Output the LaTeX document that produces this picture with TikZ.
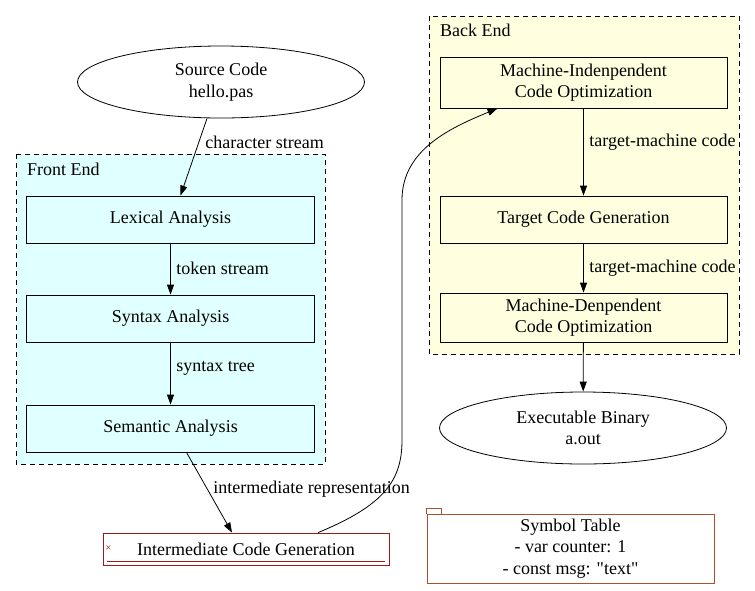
\documentclass[tikz,border=0pt]{standalone}
\usepackage{fontspec}
\setmainfont{Liberation Serif}[Ligatures=TeXOff]
\usetikzlibrary{arrows.meta,shapes.geometric}

\definecolor{frontfill}{HTML}{E0FFFF}
\definecolor{backfill}{HTML}{FFFFE0}
\definecolor{icgred}{RGB}{155,28,28}
\definecolor{symbrown}{RGB}{170,82,45}

\begin{document}
\begin{tikzpicture}[
    x=1pt, y=-1pt,
    every node/.style={font=\fontsize{18}{21.5}\selectfont},
    cluster/.style={draw, dashed, dash pattern=on 5pt off 4pt, line width=0.8pt},
    clabel/.style={anchor=west, inner sep=0pt},
    stage/.style={
        draw,
        line width=0.8pt,
        align=center,
        inner sep=0pt,
        minimum width=288pt,
        minimum height=47pt
    },
    term/.style={draw, ellipse, line width=0.8pt, fill=white, align=center,
        inner sep=0pt, minimum width=287pt, minimum height=72pt},
    elabel/.style={anchor=west, inner sep=0pt},
    arr/.style={-{Triangle[length=10pt,width=7pt]}, line width=0.8pt}
]
    \useasboundingbox (0,0) rectangle (755,590);

    % Clusters
    \draw[cluster, fill=frontfill] (16,154) rectangle (325,464);
    \node[clabel] (felabel) at (27,169) {Front End};
    \draw[cluster, fill=backfill] (429,16) rectangle (739,354);
    \node[clabel] (belabel) at (440,30) {Back End};

    % Source
    \node[term] (src) at (221,82) {Source Code\\ hello.pas};

    % Front end
    \node[stage, fill=frontfill] (lex) at (170.5,219.5) {Lexical Analysis};
    \node[stage, fill=frontfill] (syn) at (170.5,318.5) {Syntax Analysis};
    \node[stage, fill=frontfill] (sem) at (170.5,428.5) {Semantic Analysis};

    \draw[arr] ([xshift=-14pt]src.south) -- ([xshift=10pt]lex.north)
        node[elabel] (lcs) at (205,142) {character stream};
    \draw[arr] (lex) -- (syn)
        node[elabel] (lts) at (176,268) {token stream};
    \draw[arr] (syn) -- (sem)
        node[elabel] (lst) at (176,368) {syntax tree};

    % Intermediate code
    \node[draw=icgred, line width=0.8pt, inner sep=0pt,
        minimum width=286pt, minimum height=32pt] (icg) at (246,549) {Intermediate Code Generation};
    \draw[icgred, line width=0.8pt] ([xshift=4pt,yshift=4pt]icg.south west) -- ([xshift=-4pt,yshift=4pt]icg.south east);
    \node[icgred, inner sep=0pt, font=\fontsize{11}{12}\selectfont] (icgmark) at (108.5,549) {×};

    \draw[arr] ([xshift=16pt]sem.south) -- ([xshift=-14pt]icg.north)
        node[elabel] (lir) at (213,489) {intermediate representation};

    % Back end
    \node[stage, fill=backfill, minimum width=287pt, minimum height=51pt] (mio) at (583.5,82.5)
        {Machine-Indenpendent\\ Code Optimization};
    \node[stage, fill=backfill, minimum width=287pt] (tcg) at (583.5,219.5) {Target Code Generation};
    \node[stage, fill=backfill, minimum width=287pt, minimum height=49pt] (mdo) at (583.5,317.5)
        {Machine-Denpendent\\ Code Optimization};

    \draw[arr] ([xshift=72pt]icg.north) .. controls (385,505) and (402,480) .. (402,440)
        -- (402,200) .. controls (402,150) and (450,128) .. ([xshift=-86pt]mio.south);

    \draw[arr] (mio) -- (tcg)
        node[elabel] (ltm1) at (589,142) {target-machine code};
    \draw[arr] (tcg) -- (mdo)
        node[elabel] (ltm2) at (589,268) {target-machine code};

    % Output
    \node[term] (exe) at (583,428) {Executable Binary\\ a.out};
    \draw[arr] (mdo) -- (exe);

    % Symbol table
    \node[draw=symbrown, line width=0.8pt, align=center, inner sep=0pt,
        minimum width=287pt, minimum height=69pt] (symtab) at (570.5,548.5)
        {Symbol Table\\ - var counter: 1\\ - const msg: "text"};
    \draw[symbrown, line width=0.8pt] (symtab.north west) -- ++(0,-5) -- ++(15,0) -- ++(0,5);

\end{tikzpicture}
\end{document}
